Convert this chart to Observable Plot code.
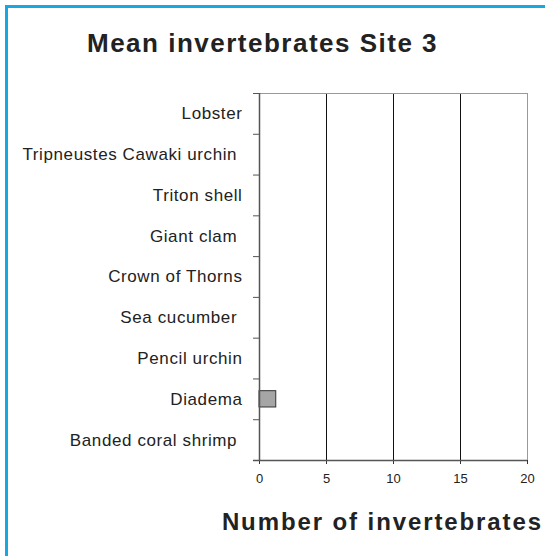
<!DOCTYPE html>
<html>
<head>
<meta charset="utf-8">
<script src="https://cdn.jsdelivr.net/npm/d3@7"></script>
<script src="https://cdn.jsdelivr.net/npm/@observablehq/plot@0.6"></script>
<style>
  html, body { margin: 0; padding: 0; background: #fff; }
  body { width: 545px; height: 556px; overflow: hidden; position: relative; font-family: "Liberation Sans", Arial, sans-serif; }
  #frame { position: absolute; left: 5px; top: 5px; width: 700px; height: 700px; border-left: 3px solid #1aa7e0; border-top: 3px solid #1aa7e0; pointer-events: none; }
  #title { box-sizing: border-box; height: 78px; padding-top: 30px; padding-left: 87px; font-size: 26px; line-height: 26px; font-weight: bold; color: #222; letter-spacing: 1.5px; white-space: nowrap; }
  #xlabel { box-sizing: border-box; height: 58px; padding-top: 12px; padding-right: 2px; text-align: right; font-size: 24px; line-height: 24px; font-weight: bold; color: #222; letter-spacing: 1.9px; white-space: nowrap; }
  svg text { white-space: pre; }
  svg .cat-labels text { letter-spacing: 0.6px; }
</style>
</head>
<body>
<div id="frame"></div>
<div id="title">Mean invertebrates Site 3</div>
<div id="chart"></div>
<div id="xlabel">Number of invertebrates</div>
<script>
const categories = [
  "Lobster",
  "Tripneustes Cawaki urchin ",
  "Triton shell",
  "Giant clam ",
  "Crown of Thorns",
  "Sea cucumber ",
  "Pencil urchin",
  "Diadema",
  "Banded coral shrimp "
];
const values = [0, 0, 0, 0, 0, 0, 0, 1.25, 0];
const xTicks = [0, 5, 10, 15, 20];
const gridTicks = [5, 10, 15];

const rows = categories.map((c, i) => ({category: c, index: i, value: values[i]}));
const boundaries = d3.range(categories.length + 1);
const centers = categories.map((c, i) => i + 0.5);

const plot = Plot.plot({
  width: 545,
  height: 420,
  marginTop: 15,
  marginBottom: 38,
  marginLeft: 259,
  marginRight: 18,
  style: {fontFamily: "'Liberation Sans', Arial, sans-serif", color: "#222", background: "transparent"},
  x: {domain: [0, 20]},
  y: {domain: [0, categories.length], reverse: true},
  marks: [
    Plot.ruleX(gridTicks, {stroke: "#111", strokeWidth: 1}),
    Plot.ruleX([20], {stroke: "#999", strokeWidth: 1}),
    Plot.ruleY([0], {stroke: "#999", strokeWidth: 1}),
    Plot.rectX(rows.filter(d => d.value > 0), {
      x1: 0, x2: "value",
      y1: d => d.index + 0.3, y2: d => d.index + 0.7,
      fill: "#a6a6a6", stroke: "#333", strokeWidth: 1
    }),
    Plot.axisY({ticks: boundaries, tickSize: 6, tickFormat: () => "", stroke: "#555"}),
    Plot.axisY({ticks: centers, tickSize: 0, tickPadding: 17, tickFormat: d => categories[Math.floor(d)], fontSize: 17, fill: "#222"}),
    Plot.axisX({ticks: xTicks, tickSize: 4, tickPadding: 9, fontSize: 13, stroke: "#333", fill: "#222", label: null}),
    Plot.ruleX([0], {stroke: "#555", strokeWidth: 1.5}),
    Plot.ruleY([categories.length], {x1: -0.45, x2: 20, stroke: "#555", strokeWidth: 1.5})
  ]
});
// tag the category label group so CSS letter-spacing applies
plot.querySelectorAll("g[aria-label='y-axis tick label']").forEach(g => {
  if ([...g.querySelectorAll("text")].some(t => t.textContent.trim() === "Lobster")) g.classList.add("cat-labels");
});
document.getElementById("chart").appendChild(plot);
</script>
</body>
</html>
